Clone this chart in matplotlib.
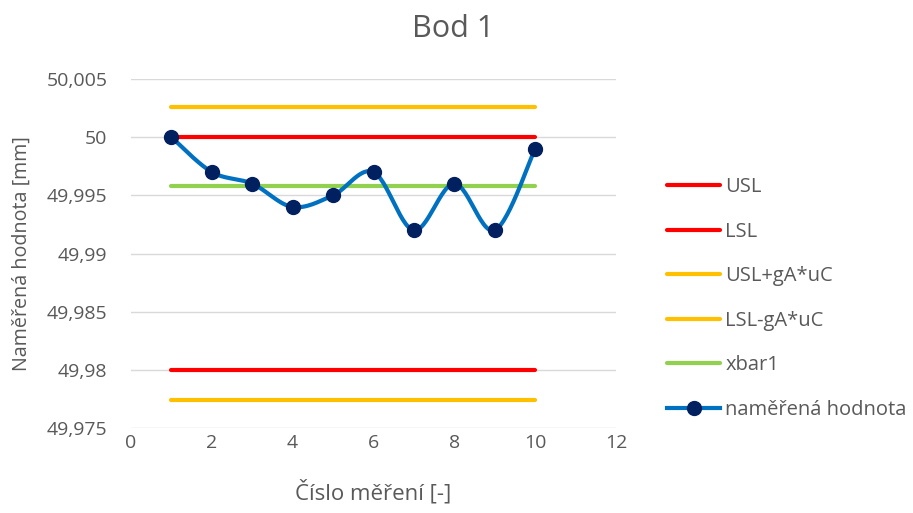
import numpy as np
import matplotlib
matplotlib.use("Agg")
import matplotlib.pyplot as plt
from matplotlib.ticker import FuncFormatter, MultipleLocator

plt.rcParams['font.family'] = ['Open Sans', 'DejaVu Sans']

# Measurement data
cislo = [1, 2, 3, 4, 5, 6, 7, 8, 9, 10]
namerena = [50.000, 49.997, 49.996, 49.994, 49.995, 49.997, 49.992, 49.996, 49.992, 49.999]

# Limit lines (drawn across the measured range)
meze_x = [1, 10]
usl = 50.000
lsl = 49.980
usl_ga = 50.0026
lsl_ga = 49.9774
xbar1 = 49.9958

TEXT = '#595959'


def smooth_curve(x, y, n=30):
    """Bezier smoothing through all points (Catmull-Rom style control points)."""
    x = np.asarray(x, float)
    y = np.asarray(y, float)
    pts = np.column_stack([x, y])
    out = []
    t = np.linspace(0, 1, n)
    for i in range(len(pts) - 1):
        p0 = pts[i]
        p3 = pts[i + 1]
        prev = pts[i - 1] if i > 0 else pts[i]
        nxt = pts[i + 2] if i + 2 < len(pts) else pts[i + 1]
        c1 = p0 + (p3 - prev) / 6.0
        c2 = p3 - (nxt - p0) / 6.0
        seg = ((1 - t)[:, None] ** 3 * p0 + 3 * ((1 - t) ** 2 * t)[:, None] * c1
               + 3 * ((1 - t) * t ** 2)[:, None] * c2 + (t ** 3)[:, None] * p3)
        out.append(seg if i == 0 else seg[1:])
    s = np.vstack(out)
    return s[:, 0], s[:, 1]


fig = plt.figure(figsize=(9.13, 5.13), dpi=100)
ax = fig.add_axes([131 / 913, 1 - 428 / 513, 485 / 913, 349 / 513])

lw = 3.0
ax.plot(meze_x, [usl, usl], color='#FF0000', lw=lw, solid_capstyle='round', label='USL')
ax.plot(meze_x, [lsl, lsl], color='#FF0000', lw=lw, solid_capstyle='round', label='LSL')
ax.plot(meze_x, [usl_ga, usl_ga], color='#FFC000', lw=lw, solid_capstyle='round', label='USL+gA*uC')
ax.plot(meze_x, [lsl_ga, lsl_ga], color='#FFC000', lw=lw, solid_capstyle='round', label='LSL-gA*uC')
ax.plot(meze_x, [xbar1, xbar1], color='#92D050', lw=lw, solid_capstyle='round', label='xbar1')

sx, sy = smooth_curve(cislo, namerena)
ax.plot(sx, sy, color='#0070C0', lw=lw, solid_capstyle='round', zorder=3)
ax.plot(cislo, namerena, linestyle='none', marker='o', ms=10,
        mfc='#002060', mec='#002060', zorder=4)
# legend proxy for the measured series
ax.plot([], [], color='#0070C0', lw=lw, marker='o', ms=10,
        mfc='#002060', mec='#002060', label='naměřená hodnota')

ax.set_xlim(0, 12)
ax.set_ylim(49.975, 50.005)
ax.xaxis.set_major_locator(MultipleLocator(2))
ax.yaxis.set_major_locator(MultipleLocator(0.005))


def cz_fmt(v, pos):
    s = f"{v:.3f}".rstrip('0').rstrip('.')
    return s.replace('.', ',')


ax.yaxis.set_major_formatter(FuncFormatter(cz_fmt))
ax.grid(axis='y', color='#D9D9D9', lw=1)
ax.set_axisbelow(True)
for sp in ax.spines.values():
    sp.set_visible(False)
ax.tick_params(axis='both', length=0, labelsize=14, labelcolor=TEXT)
ax.tick_params(axis='y', pad=17)
ax.tick_params(axis='x', pad=4)

ax.set_ylabel('Naměřená hodnota [mm]', fontsize=14.2, color=TEXT)
ax.set_xlabel('Číslo měření [-]', fontsize=16, color=TEXT)
ax.yaxis.set_label_coords(-0.204, 0.5)
ax.xaxis.set_label_coords(0.5, -0.148)

fig.text(453 / 913, 1 - 29 / 513, 'Bod 1', fontsize=22, color=TEXT,
         ha='center', va='center')

handles, labels = ax.get_legend_handles_labels()
leg = fig.legend(handles, labels, loc='upper left',
                 bbox_to_anchor=(667 / 913, 1 - 177 / 513),
                 frameon=False, fontsize=14.5, labelcolor=TEXT,
                 handlelength=2.64, handletextpad=0.25, labelspacing=1.22,
                 borderaxespad=0, borderpad=0)

fig.savefig('out.png', dpi=100)
